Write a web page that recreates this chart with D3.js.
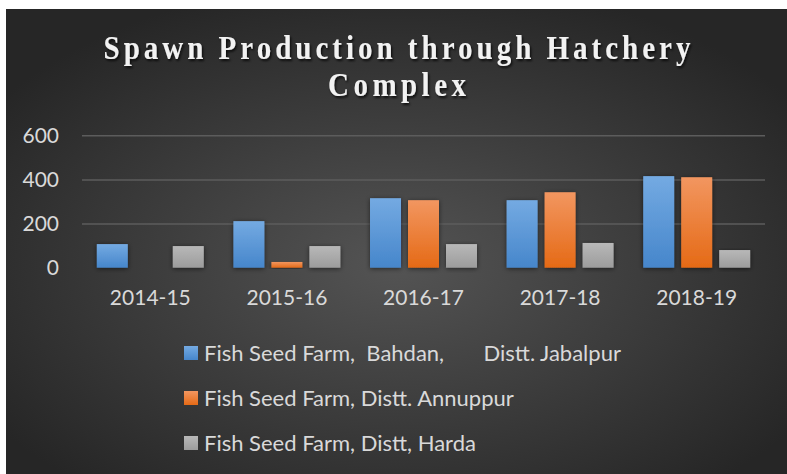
<!DOCTYPE html>
<html>
<head>
<meta charset="utf-8">
<script src="https://cdn.jsdelivr.net/npm/d3@7"></script>
<style>
  html, body { margin: 0; padding: 0; background: #ffffff; }
  svg { display: block; }
</style>
</head>
<body>
<svg id="chart" width="787" height="474"></svg>
<script>
const categories = ["2014-15", "2015-16", "2016-17", "2017-18", "2018-19"];
const seriesNames = [
  "Fish Seed Farm,  Bahdan,       Distt. Jabalpur",
  "Fish Seed Farm, Distt. Annuppur",
  "Fish Seed Farm, Distt, Harda"
];
const jabalpur = [107, 211, 315, 306, 415];
const annuppur = [0, 26, 306, 342, 410];
const harda = [98, 98, 107, 112, 80];
const yTicks = [0, 200, 400, 600];
const titleLines = ["Spawn Production through Hatchery", "Complex"];

const seriesValues = [jabalpur, annuppur, harda];
const colorsTop = ["#74aae2", "#f29660", "#b8b8b8"];
const colorsBot = ["#4686cb", "#e56a16", "#9c9c9c"];

const svg = d3.select("#chart");
const defs = svg.append("defs");

const bg = defs.append("radialGradient").attr("id", "bg")
  .attr("cx", "50%").attr("cy", "55%").attr("r", "62%");
bg.append("stop").attr("offset", "0%").attr("stop-color", "#545454");
bg.append("stop").attr("offset", "100%").attr("stop-color", "#262626");

seriesValues.forEach((_, i) => {
  const g = defs.append("linearGradient").attr("id", "bar" + i)
    .attr("x1", 0).attr("y1", 0).attr("x2", 0).attr("y2", 1);
  g.append("stop").attr("offset", "0%").attr("stop-color", colorsTop[i]);
  g.append("stop").attr("offset", "100%").attr("stop-color", colorsBot[i]);
});

const sh = defs.append("filter").attr("id", "tshadow")
  .attr("x", "-10%").attr("y", "-30%").attr("width", "120%").attr("height", "160%");
sh.append("feDropShadow").attr("dx", 1.5).attr("dy", 2).attr("stdDeviation", 1.3)
  .attr("flood-color", "#000").attr("flood-opacity", 0.75);

const bsh = defs.append("filter").attr("id", "bshadow")
  .attr("x", "-30%").attr("y", "-10%").attr("width", "160%").attr("height", "130%");
bsh.append("feDropShadow").attr("dx", 0).attr("dy", 1).attr("stdDeviation", 2.5)
  .attr("flood-color", "#000").attr("flood-opacity", 0.55);

svg.append("rect").attr("x", 6).attr("y", 9).attr("width", 781).attr("height", 465)
  .attr("fill", "url(#bg)");

// Title
const titleBase = [59, 96];
const titleWidth = [587, 138];
const sx = 0.88;
titleLines.forEach((t, i) => {
  svg.append("g")
    .attr("transform", `translate(397,${titleBase[i]}) scale(${sx},1)`)
    .append("text")
    .attr("text-anchor", "middle")
    .attr("font-family", "'Liberation Serif', 'Times New Roman', serif")
    .attr("font-weight", "bold")
    .attr("font-size", 33)
    .attr("fill", "#f2f2f2")
    .attr("filter", "url(#tshadow)")
    .attr("textLength", titleWidth[i] / sx)
    .attr("lengthAdjust", "spacing")
    .text(t);
});

const plotLeft = 82, plotRight = 765;
const y = d3.scaleLinear().domain([0, 600]).range([267.7, 135.3]);
const x0 = d3.scaleBand().domain(categories).range([plotLeft, plotRight]).padding(0);
const x1 = d3.scaleBand().domain(d3.range(seriesValues.length))
  .range([0, x0.bandwidth()]).paddingInner(7 / 38).paddingOuter(0.39);

// gridlines
const yAxis = d3.axisLeft(y).tickValues(yTicks).tickSize(-(plotRight - plotLeft)).tickPadding(23);
const gy = svg.append("g").attr("transform", `translate(${plotLeft},0)`).call(yAxis);
gy.select(".domain").remove();
gy.selectAll(".tick line").attr("stroke", "#5c5c5c").attr("stroke-width", 1.5)
  .filter(d => d === 0).remove();
gy.selectAll(".tick text")
  .attr("fill", "#d9d9d9")
  .attr("font-family", "Lato, 'Open Sans', sans-serif")
  .attr("font-size", 21);

// bars
const groups = svg.append("g").selectAll("g").data(categories).join("g")
  .attr("transform", d => `translate(${x0(d)},0)`);
groups.selectAll("rect")
  .data((c, ci) => seriesValues.map((vals, si) => ({ si, v: vals[ci] })))
  .join("rect")
  .attr("x", d => x1(d.si))
  .attr("width", x1.bandwidth())
  .attr("y", d => y(d.v))
  .attr("height", d => y(0) - y(d.v))
  .attr("fill", d => `url(#bar${d.si})`)
  .attr("filter", "url(#bshadow)");

// baseline axis
const xAxis = d3.axisBottom(x0).tickSize(0).tickPadding(22);
const gx = svg.append("g").attr("transform", `translate(0,${y(0)})`).call(xAxis);
gx.select(".domain").attr("stroke", "#b4b4b4").attr("stroke-width", 2.5).attr("filter", "url(#bshadow)");
gx.selectAll(".tick text")
  .attr("fill", "#d9d9d9")
  .attr("font-family", "Lato, 'Open Sans', sans-serif")
  .attr("font-size", 21);

// legend
const legendY = [353, 398, 443];
const lg = svg.append("g").selectAll("g").data(seriesNames).join("g")
  .attr("transform", (d, i) => `translate(184,${legendY[i]})`);
lg.append("rect").attr("x", 0).attr("y", -7).attr("width", 14).attr("height", 14)
  .attr("fill", (d, i) => `url(#bar${i})`);
lg.append("text").attr("x", 20).attr("dy", "0.35em")
  .attr("fill", "#d9d9d9")
  .attr("font-family", "Lato, 'Open Sans', sans-serif")
  .attr("font-size", 22)
  .style("white-space", "pre")
  .text(d => d);
</script>
</body>
</html>
